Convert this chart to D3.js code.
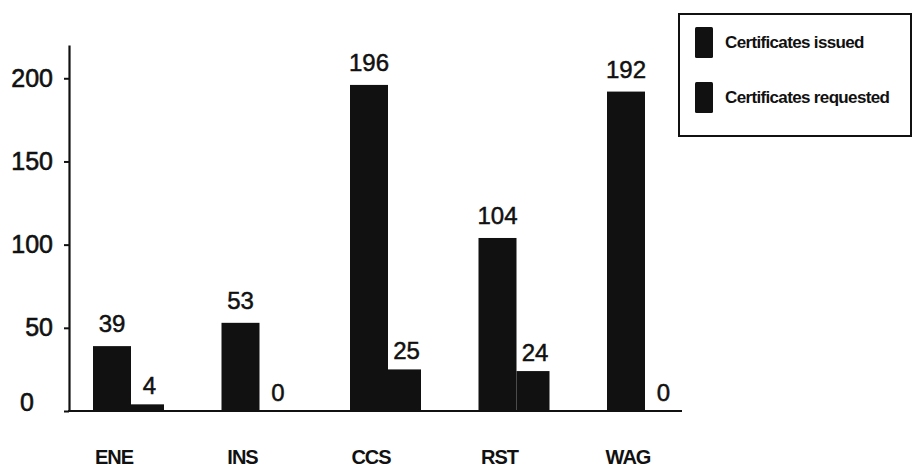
<!DOCTYPE html>
<html>
<head>
<meta charset="utf-8">
<script src="https://cdn.jsdelivr.net/npm/d3@7"></script>
<style>
  html, body { margin: 0; padding: 0; background: #fff; }
  svg { display: block; }
  text { font-family: "Liberation Sans", Arial, sans-serif; fill: #111; }
</style>
</head>
<body>
<svg id="chart" width="913" height="467"></svg>
<script>
// Certificate counts per unit
const categories = ["ENE", "INS", "CCS", "RST", "WAG"];
const issued = [39, 53, 196, 104, 192];
const requested = [4, 0, 25, 24, 0];
const seriesNames = ["Certificates issued", "Certificates requested"];
const yTicks = [0, 50, 100, 150, 200];

const svg = d3.select("#chart");
const axisX = 69;
const baseY = 411;
const barW = 38;       // issued bar width
const reqW = 33;       // requested bar width
const ink = "#111";

const y = d3.scaleLinear().domain([0, 220]).range([baseY, 45]);
const x = d3.scalePoint().domain(categories).range([112, 626]);

// Bars: issued bar centred on the category, requested bar right beside it
const rows = categories.map((c, i) => ({ c, issued: issued[i], requested: requested[i] }));

const g = svg.append("g");

g.selectAll("rect.issued").data(rows).join("rect")
  .attr("class", "issued")
  .attr("x", d => x(d.c) - barW / 2)
  .attr("y", d => y(d.issued))
  .attr("width", barW)
  .attr("height", d => y(0) - y(d.issued))
  .attr("fill", ink);

g.selectAll("rect.requested").data(rows).join("rect")
  .attr("class", "requested")
  .attr("x", d => x(d.c) + barW / 2)
  .attr("y", d => y(d.requested))
  .attr("width", reqW)
  .attr("height", d => y(0) - y(d.requested))
  .attr("fill", ink);

// Value labels (thin outline gives the heavier print weight)
const numStyle = sel => sel
  .attr("font-size", 24)
  .attr("stroke", ink)
  .attr("stroke-width", 0.5);

g.selectAll("text.vi").data(rows).join("text")
  .attr("class", "vi")
  .attr("x", d => x(d.c))
  .attr("y", d => y(d.issued) - 14)
  .attr("text-anchor", "middle")
  .call(numStyle)
  .text(d => d.issued);

g.selectAll("text.vr").data(rows).join("text")
  .attr("class", "vr")
  .attr("x", d => x(d.c) + barW / 2 + reqW / 2 + 2)
  .attr("y", d => y(d.requested) - 10)
  .attr("text-anchor", "middle")
  .call(numStyle)
  .text(d => d.requested);

// Y axis
const yAxis = svg.append("g")
  .attr("transform", `translate(${axisX},0)`)
  .call(d3.axisLeft(y).tickValues(yTicks).tickSize(5).tickSizeOuter(0).tickPadding(11));
yAxis.select(".domain").attr("stroke", ink).attr("stroke-width", 2.2);
yAxis.selectAll(".tick line").attr("stroke", ink).attr("stroke-width", 2);
yAxis.selectAll(".tick text")
  .attr("font-size", 25)
  .attr("font-family", "Liberation Sans, Arial, sans-serif")
  .attr("fill", ink)
  .attr("stroke", ink)
  .attr("stroke-width", 0.6);
// the zero label sits a little above and left of the corner
yAxis.selectAll(".tick").filter(d => d === 0).select("text")
  .attr("x", -42)
  .attr("text-anchor", "middle")
  .attr("dy", "0.32em")
  .attr("transform", "translate(0,-9)");

// Baseline
svg.append("line")
  .attr("x1", axisX - 1).attr("x2", 682)
  .attr("y1", y(0)).attr("y2", y(0))
  .attr("stroke", ink).attr("stroke-width", 2.2);

// Category labels
svg.selectAll("text.cat").data(categories).join("text")
  .attr("class", "cat")
  .attr("x", d => x(d) + 2)
  .attr("y", 464)
  .attr("text-anchor", "middle")
  .attr("font-size", 20)
  .attr("font-weight", "bold")
  .attr("letter-spacing", "-1px")
  .text(d => d);

// Legend
const legend = svg.append("g");
legend.append("rect")
  .attr("x", 679).attr("y", 14)
  .attr("width", 232).attr("height", 122)
  .attr("fill", "#fff")
  .attr("stroke", ink).attr("stroke-width", 2);

const li = legend.selectAll("g.item").data(seriesNames).join("g")
  .attr("class", "item")
  .attr("transform", (d, i) => `translate(695,${27 + i * 55})`);
li.append("rect")
  .attr("width", 18).attr("height", 31)
  .attr("rx", 1.5)
  .attr("fill", ink);
li.append("text")
  .attr("x", 30).attr("y", 21)
  .attr("font-size", 17)
  .attr("font-weight", "bold")
  .attr("letter-spacing", "-0.65px")
  .text(d => d);
</script>
</body>
</html>
